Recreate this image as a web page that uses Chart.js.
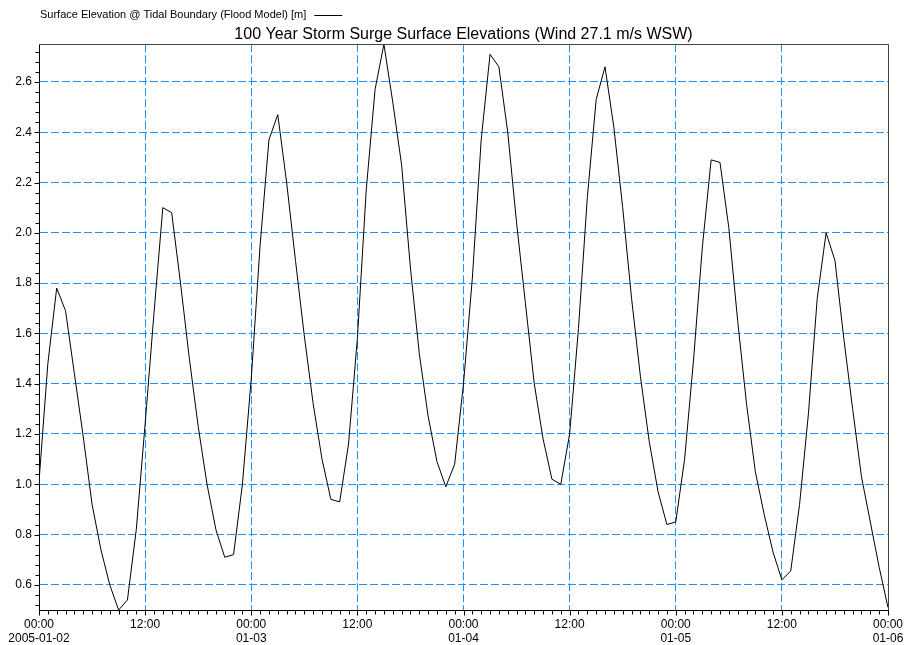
<!DOCTYPE html>
<html><head><meta charset="utf-8">
<script src="https://cdn.jsdelivr.net/npm/chart.js@4"></script>
<style>html,body{margin:0;padding:0;background:#fff;}#wrap{width:907px;height:645px;}</style>
</head><body><div id="wrap"><canvas id="c" width="907" height="645"></canvas></div>
<script>
const titleText = '100 Year Storm Surge Surface Elevations (Wind 27.1 m/s WSW)';
const seriesName = 'Surface Elevation @ Tidal Boundary (Flood Model) [m]';
// hours since 2005-01-02 00:00
const hours = [0,1,2,3,4,5,6,7,8,9,10,11,12,13,14,15,16,17,18,19,20,21,22,23,24,
  25,26,27,28,29,30,31,32,33,34,35,36,37,38,39,40,41,42,43,44,45,46,47,48,
  49,50,51,52,53,54,55,56,57,58,59,60,61,62,63,64,65,66,67,68,69,70,71,72,
  73,74,75,76,77,78,79,80,81,82,83,84,85,86,87,88,89,90,91,92,93,94,95,96];
const elevation = [
  1.01,1.48,1.78,1.69,1.44,1.19,0.92,0.74,0.60,0.50,0.54,0.82,1.24,
  1.68,2.10,2.08,1.80,1.50,1.23,1.00,0.82,0.71,0.72,1.00,1.42,
  1.95,2.37,2.47,2.20,1.89,1.59,1.32,1.10,0.94,0.93,1.16,1.58,
  2.17,2.57,2.75,2.52,2.27,1.86,1.52,1.27,1.09,0.99,1.08,1.40,
  1.82,2.37,2.71,2.66,2.40,2.04,1.72,1.40,1.18,1.02,1.00,1.20,
  1.62,2.14,2.53,2.66,2.42,2.10,1.74,1.43,1.17,0.97,0.84,0.85,
  1.10,1.49,1.94,2.29,2.28,2.02,1.65,1.32,1.05,0.88,0.73,0.62,
  0.655,0.92,1.28,1.74,2.00,1.89,1.58,1.30,1.03,0.85,0.67,0.51];
const xTickHours = [0,12,24,36,48,60,72,84,96];
const xTickLabels = [['00:00','2005-01-02'],['12:00'],['00:00','01-03'],['12:00'],['00:00','01-04'],['12:00'],['00:00','01-05'],['12:00'],['00:00','01-06']];
const xMinorStep = 1;
const yTicks = [0.6,0.8,1.0,1.2,1.4,1.6,1.8,2.0,2.2,2.4,2.6];
const yMinorStep = 0.04;
const yMin = 0.5, yMax = 2.75;

const FONT = "'Liberation Sans', Arial, sans-serif";
const GRID = '#1E90FF';

const extras = {
  id: 'extras',
  afterDraw(chart) {
    const {ctx, chartArea: a, scales: {x, y}} = chart;
    ctx.save();
    // frame top/right
    ctx.strokeStyle = '#444';
    ctx.lineWidth = 1;
    ctx.beginPath();
    ctx.moveTo(a.left, Math.round(a.top) + 0.5);
    ctx.lineTo(a.right + 0.5, Math.round(a.top) + 0.5);
    ctx.moveTo(Math.round(a.right) + 0.5, a.top);
    ctx.lineTo(Math.round(a.right) + 0.5, a.bottom);
    ctx.stroke();
    // tick marks
    ctx.strokeStyle = '#000';
    ctx.beginPath();
    const by = Math.round(a.bottom) + 0.5;
    for (let h = x.min; h <= x.max + 1e-9; h += xMinorStep) {
      const px = Math.round(x.getPixelForValue(h)) + 0.5;
      const major = xTickHours.includes(h);
      ctx.moveTo(px, by);
      ctx.lineTo(px, by + (major ? 5 : 4));
    }
    const lx = Math.round(a.left) + 0.5;
    const n0 = Math.ceil((yMin - 1e-9) / yMinorStep);
    for (let k = n0; k * yMinorStep <= yMax + 1e-9; k++) {
      const v = k * yMinorStep;
      const py = Math.round(y.getPixelForValue(v)) + 0.5;
      const major = yTicks.some(t => Math.abs(t - v) < 1e-6);
      ctx.moveTo(lx, py);
      ctx.lineTo(lx - (major ? 5 : 4), py);
    }
    ctx.stroke();
    // legend (text then line sample)
    ctx.font = '11px ' + FONT;
    ctx.fillStyle = '#000';
    ctx.textBaseline = 'middle';
    ctx.textAlign = 'left';
    ctx.fillText(seriesName, 40, 15);
    const w = ctx.measureText(seriesName).width;
    ctx.beginPath();
    ctx.moveTo(40 + w + 8, 15.5);
    ctx.lineTo(40 + w + 36, 15.5);
    ctx.stroke();
    ctx.restore();
  }
};

new Chart(document.getElementById('c'), {
  type: 'line',
  data: {
    datasets: [{
      label: seriesName,
      data: hours.map((h, i) => ({x: h, y: elevation[i]})),
      borderColor: '#000',
      borderWidth: 1,
      pointRadius: 0,
      tension: 0,
      fill: false
    }]
  },
  options: {
    responsive: false,
    devicePixelRatio: 1,
    animation: false,
    layout: {padding: {top: 25, right: 19, left: 0, bottom: 0}},
    plugins: {
      legend: {display: false},
      tooltip: {enabled: false},
      title: {
        display: true,
        fullSize: false,
        text: titleText,
        color: '#000',
        font: {family: FONT, size: 16, weight: 'normal'},
        padding: {top: 0, bottom: 0}
      }
    },
    scales: {
      x: {
        type: 'linear',
        min: 0, max: 96,
        afterBuildTicks: s => { s.ticks = xTickHours.map(v => ({value: v})); },
        afterFit: s => { s.height = 35; s.paddingLeft = 0; s.paddingRight = 0; },
        ticks: {
          autoSkip: false, maxRotation: 0, minRotation: 0, padding: 7,
          color: '#000',
          font: {family: FONT, size: 12},
          callback: (v, i) => xTickLabels[i]
        },
        grid: {
          drawTicks: false,
          color: c => (c.tick && (c.tick.value === 0 || c.tick.value === 96)) ? 'rgba(0,0,0,0)' : GRID,
          lineWidth: 1
        },
        border: {display: true, color: '#000', width: 1, dash: [8, 3]}
      },
      y: {
        type: 'linear',
        min: yMin, max: yMax,
        afterBuildTicks: s => { s.ticks = yTicks.map(v => ({value: v})); },
        afterFit: s => { s.width = 39; },
        ticks: {
          padding: 7, color: '#000',
          font: {family: FONT, size: 12},
          callback: v => Number(v).toFixed(1)
        },
        grid: {drawTicks: false, color: GRID, lineWidth: 1},
        border: {display: true, color: '#000', width: 1, dash: [8, 3]}
      }
    }
  },
  plugins: [extras]
});
</script></body></html>
